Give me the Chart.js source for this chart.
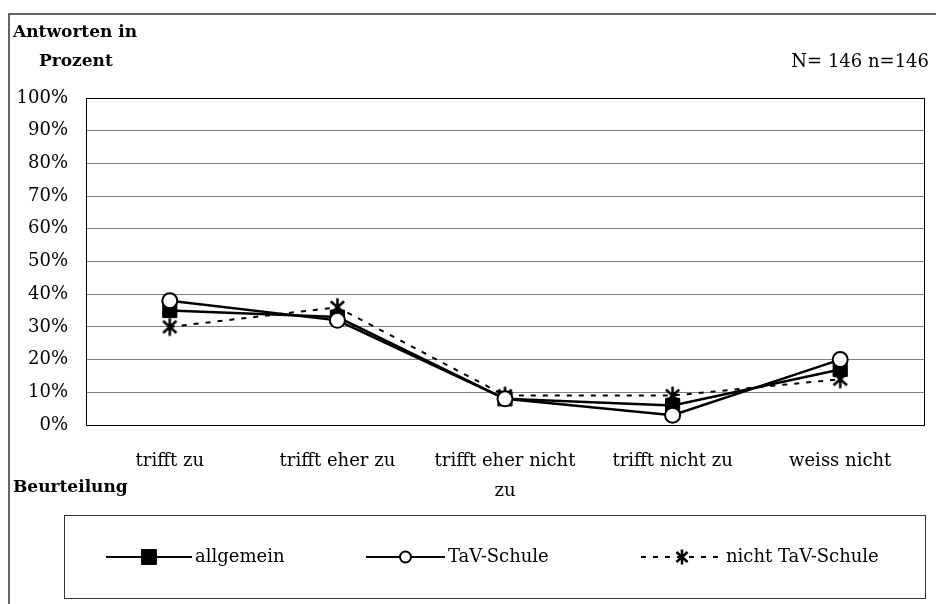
<!DOCTYPE html>
<html>
<head>
<meta charset="utf-8">
<script src="https://cdn.jsdelivr.net/npm/chart.js@4"></script>
<style>
  html, body { margin: 0; padding: 0; background: #fff; }
  #wrap { width: 936px; height: 604px; position: relative; }
</style>
</head>
<body>
<div id="wrap"><canvas id="chart" width="936" height="604"></canvas></div>
<script>
const categories = [['trifft zu'], ['trifft eher zu'], ['trifft eher nicht', 'zu'], ['trifft nicht zu'], ['weiss nicht']];
const allgemein = [35, 33, 8, 6, 17];
const tavSchule = [38, 32, 8, 3, 20];
const nichtTav = [30, 36, 9, 9, 14];
const seriesNames = ['allgemein', 'TaV-Schule', 'nicht TaV-Schule'];
const yTicks = [0, 10, 20, 30, 40, 50, 60, 70, 80, 90, 100];

const serif = "'DejaVu Serif', serif";

// asterisk marker for "nicht TaV-Schule"
function makeStar(size, lw) {
  const c = document.createElement('canvas');
  c.width = size; c.height = size;
  const g = c.getContext('2d');
  const m = size / 2, r = size / 2 - 1.5;
  g.strokeStyle = '#000';
  g.lineWidth = lw;
  g.beginPath();
  g.moveTo(m, m - r); g.lineTo(m, m + r);
  const a = 48 * Math.PI / 180;
  g.moveTo(m - r * Math.sin(a), m - r * Math.cos(a)); g.lineTo(m + r * Math.sin(a), m + r * Math.cos(a));
  g.moveTo(m + r * Math.sin(a), m - r * Math.cos(a)); g.lineTo(m - r * Math.sin(a), m + r * Math.cos(a));
  g.stroke();
  return c;
}
const star = makeStar(21, 2.5);
const legendStar = makeStar(18, 2.5);

const frame = {
  id: 'frame',
  beforeDraw(chart) {
    const ctx = chart.ctx;
    ctx.save();
    ctx.fillStyle = '#fff';
    ctx.fillRect(0, 0, chart.width, chart.height);
    ctx.strokeStyle = '#333';
    ctx.lineWidth = 1.5;
    ctx.beginPath();
    ctx.moveTo(9, 604); ctx.lineTo(9, 14); ctx.lineTo(936, 14);
    ctx.stroke();
    ctx.restore();
  },
  beforeDatasetsDraw(chart) {
    const a = chart.chartArea, ctx = chart.ctx;
    ctx.save();
    ctx.strokeStyle = '#000';
    ctx.lineWidth = 1;
    ctx.strokeRect(Math.round(a.left) + 0.5, Math.round(a.top) + 0.5, Math.round(a.right - a.left), Math.round(a.bottom - a.top));
    ctx.restore();
  },
  afterDraw(chart) {
    const ctx = chart.ctx;
    ctx.save();
    ctx.fillStyle = '#000';
    ctx.textBaseline = 'middle';
    ctx.font = 'bold 17px ' + serif;
    ctx.fillText('Antworten in', 13, 33);
    ctx.fillText('Prozent', 39, 62);
    ctx.fillText('Beurteilung', 13, 488);
    ctx.font = '18px ' + serif;
    ctx.textAlign = 'right';
    ctx.fillText('N= 146 n=146', 929, 62);

    // legend
    ctx.strokeStyle = '#333';
    ctx.lineWidth = 1;
    ctx.strokeRect(64.5, 515.5, 861, 83);
    const items = [
      { x1: 106, x2: 192, tx: 195 },
      { x1: 366, x2: 445, tx: 448 },
      { x1: 641, x2: 723, tx: 726 }
    ];
    const y = 557;
    ctx.textAlign = 'left';
    chart.data.datasets.forEach((ds, i) => {
      const it = items[i];
      ctx.save();
      ctx.strokeStyle = '#000';
      ctx.lineWidth = 2;
      ctx.setLineDash(ds.borderDash || []);
      ctx.beginPath();
      ctx.moveTo(it.x1, y); ctx.lineTo(it.x2, y);
      ctx.stroke();
      ctx.restore();
      ctx.save();
      ctx.fillStyle = ds.pointBackgroundColor;
      ctx.strokeStyle = '#000';
      ctx.lineWidth = ds.pointBorderWidth;
      Chart.helpers.drawPoint(ctx, { pointStyle: ds.legendStyle || ds.pointStyle, radius: ds.legendRadius, rotation: 0, borderWidth: ds.pointBorderWidth }, (it.x1 + it.x2) / 2, y);
      ctx.restore();
      ctx.fillStyle = '#000';
      ctx.font = '18px ' + serif;
      ctx.fillText(ds.label, it.tx, y);
    });
    ctx.restore();
  }
};

new Chart(document.getElementById('chart'), {
  type: 'line',
  data: {
    labels: categories,
    datasets: [
      {
        label: seriesNames[0], data: allgemein, order: 2,
        borderColor: '#000', borderWidth: 2.5,
        pointStyle: 'rect', pointRadius: 10, legendRadius: 10.5,
        pointBackgroundColor: '#000', pointBorderColor: '#000', pointBorderWidth: 1
      },
      {
        label: seriesNames[1], data: tavSchule, order: 1,
        borderColor: '#000', borderWidth: 2.5,
        pointStyle: 'circle', pointRadius: 7.5, legendRadius: 5.5,
        pointBackgroundColor: '#fff', pointBorderColor: '#000', pointBorderWidth: 2
      },
      {
        label: seriesNames[2], data: nichtTav, order: 3,
        borderColor: '#000', borderWidth: 2, borderDash: [5, 7],
        pointStyle: star, legendStyle: legendStar, pointRadius: 10, legendRadius: 9,
        pointBackgroundColor: '#000', pointBorderColor: '#000', pointBorderWidth: 2
      }
    ]
  },
  options: {
    responsive: false,
    animation: false,
    layout: { padding: { left: 0, right: 7, top: 98, bottom: 0 } },
    plugins: { legend: { display: false }, tooltip: { enabled: false } },
    elements: { line: { tension: 0 } },
    scales: {
      x: {
        offset: true,
        grid: { display: false, drawTicks: false },
        border: { display: false },
        ticks: { color: '#000', font: { family: serif, size: 18, lineHeight: 1.67 }, padding: 21, maxRotation: 0, autoSkip: false },
        afterFit: s => { s.height = 179; s.paddingLeft = 0; s.paddingRight = 0; }
      },
      y: {
        min: 0, max: 100,
        grid: { color: ctx => (ctx.tick && (ctx.tick.value === 0 || ctx.tick.value === 100)) ? '#000' : '#808080', lineWidth: 1, drawTicks: false },
        border: { display: false },
        afterBuildTicks: s => { s.ticks = yTicks.map(v => ({ value: v })); },
        ticks: { color: '#000', font: { family: serif, size: 18 }, padding: 18, callback: v => v + '%' },
        afterFit: s => { s.width = 86; }
      }
    }
  },
  plugins: [frame]
});
</script>
</body>
</html>
